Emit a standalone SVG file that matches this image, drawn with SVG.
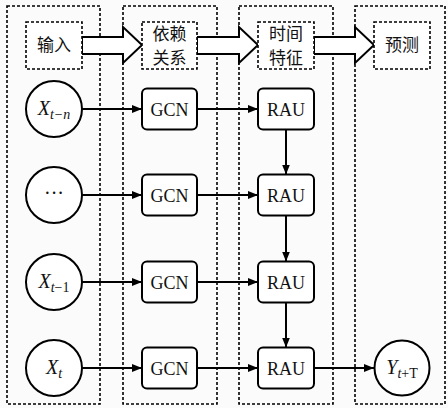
<svg xmlns="http://www.w3.org/2000/svg" width="448" height="408" viewBox="0 0 448 408">
<defs>
<marker id="ah" viewBox="0 0 10 8" refX="10" refY="4" markerWidth="10" markerHeight="8" markerUnits="userSpaceOnUse" orient="auto">
<path d="M0,0 L10,4 L0,8 Z" fill="#000"/>
</marker>
<style>
.panel{fill:none;stroke:#000;stroke-width:1.6;stroke-dasharray:3 2}
.hdr{fill:#fff;stroke:#000;stroke-width:1.6;stroke-dasharray:3 2}
.barrow{fill:#fff;stroke:#000;stroke-width:2}
.node{fill:#fff;stroke:#000;stroke-width:2}
.edge{fill:none;stroke:#000;stroke-width:2;marker-end:url(#ah)}
.cjk{font-family:"Noto Sans CJK SC","Noto Sans",sans-serif;font-size:17px;fill:#111;text-anchor:middle}
.lbl{font-family:"Liberation Serif","Times New Roman",serif;font-size:18px;fill:#111;text-anchor:middle}
.var{font-family:"Liberation Serif","Times New Roman",serif;font-size:20px;fill:#111;text-anchor:middle}
.sub{font-size:14px}
</style>
</defs>
<rect width="448" height="408" fill="#fbfbfb"/>
<g id="panels">
<rect class="panel" x="7" y="6" width="93" height="398"/>
<rect class="panel" x="123" y="6" width="94" height="398"/>
<rect class="panel" x="239" y="6" width="94" height="398"/>
<rect class="panel" x="355" y="6" width="90" height="398"/>
</g>
<g id="block-arrows">
<path class="barrow" d="M82,37 H123 V27 L142,45 L123,63 V54 H82 Z"/>
<path class="barrow" d="M197,37 H239 V27 L258,45 L239,63 V54 H197 Z"/>
<path class="barrow" d="M314,37 H355 V27 L374,45 L355,63 V54 H314 Z"/>
</g>
<g id="hdr-input"><rect class="hdr" x="26" y="22" width="56" height="47"/><text class="cjk" x="54" y="51">输入</text></g>
<g id="hdr-dep"><rect class="hdr" x="142" y="22" width="55" height="47"/><text class="cjk" x="169.5" y="40">依赖</text><text class="cjk" x="169.5" y="64">关系</text></g>
<g id="hdr-time"><rect class="hdr" x="258" y="22" width="56" height="47"/><text class="cjk" x="286" y="40">时间</text><text class="cjk" x="286" y="64">特征</text></g>
<g id="hdr-pred"><rect class="hdr" x="374" y="22" width="56" height="47"/><text class="cjk" x="402" y="51">预测</text></g>
<g id="connectors">
<line class="edge" x1="82" y1="109" x2="142" y2="109"/>
<line class="edge" x1="82" y1="195" x2="142" y2="195"/>
<line class="edge" x1="82" y1="282" x2="142" y2="282"/>
<line class="edge" x1="82" y1="368" x2="142" y2="368"/>
<line class="edge" x1="197" y1="109" x2="258" y2="109"/>
<line class="edge" x1="197" y1="195" x2="258" y2="195"/>
<line class="edge" x1="197" y1="282" x2="258" y2="282"/>
<line class="edge" x1="197" y1="368" x2="258" y2="368"/>
<line class="edge" x1="286" y1="129.5" x2="286" y2="174.5"/>
<line class="edge" x1="286" y1="215.5" x2="286" y2="261.5"/>
<line class="edge" x1="286" y1="302.5" x2="286" y2="347.5"/>
<line class="edge" x1="314" y1="368" x2="374" y2="368"/>
</g>
<g id="x-tn"><circle class="node" cx="54" cy="109" r="28"/><text class="var" x="54" y="115"><tspan font-style="italic">X</tspan><tspan class="sub" dy="4" font-style="italic">t−n</tspan></text></g>
<g id="x-dots"><circle class="node" cx="54" cy="195" r="28"/><text class="var" x="54" y="200">···</text></g>
<g id="x-t1"><circle class="node" cx="54" cy="282" r="28"/><text class="var" x="54" y="288"><tspan font-style="italic">X</tspan><tspan class="sub" dy="4"><tspan font-style="italic">t</tspan>−1</tspan></text></g>
<g id="x-t"><circle class="node" cx="54" cy="368" r="28"/><text class="var" x="54" y="374"><tspan font-style="italic">X</tspan><tspan class="sub" dy="4" font-style="italic">t</tspan></text></g>
<g id="gcn1"><rect class="node" x="142" y="88.5" width="55" height="41" rx="5"/><text class="lbl" x="169.5" y="115.5">GCN</text></g>
<g id="gcn2"><rect class="node" x="142" y="174.5" width="55" height="41" rx="5"/><text class="lbl" x="169.5" y="201.5">GCN</text></g>
<g id="gcn3"><rect class="node" x="142" y="261.5" width="55" height="41" rx="5"/><text class="lbl" x="169.5" y="288.5">GCN</text></g>
<g id="gcn4"><rect class="node" x="142" y="347.5" width="55" height="41" rx="5"/><text class="lbl" x="169.5" y="374.5">GCN</text></g>
<g id="rau1"><rect class="node" x="258" y="88.5" width="56" height="41" rx="5"/><text class="lbl" x="286" y="115.5">RAU</text></g>
<g id="rau2"><rect class="node" x="258" y="174.5" width="56" height="41" rx="5"/><text class="lbl" x="286" y="201.5">RAU</text></g>
<g id="rau3"><rect class="node" x="258" y="261.5" width="56" height="41" rx="5"/><text class="lbl" x="286" y="288.5">RAU</text></g>
<g id="rau4"><rect class="node" x="258" y="347.5" width="56" height="41" rx="5"/><text class="lbl" x="286" y="374.5">RAU</text></g>
<g id="y-out"><circle class="node" cx="402" cy="368" r="27.5"/><text class="var" x="402" y="374"><tspan font-style="italic">Y</tspan><tspan class="sub" dy="4"><tspan font-style="italic">t</tspan>+T</tspan></text></g>
</svg>
